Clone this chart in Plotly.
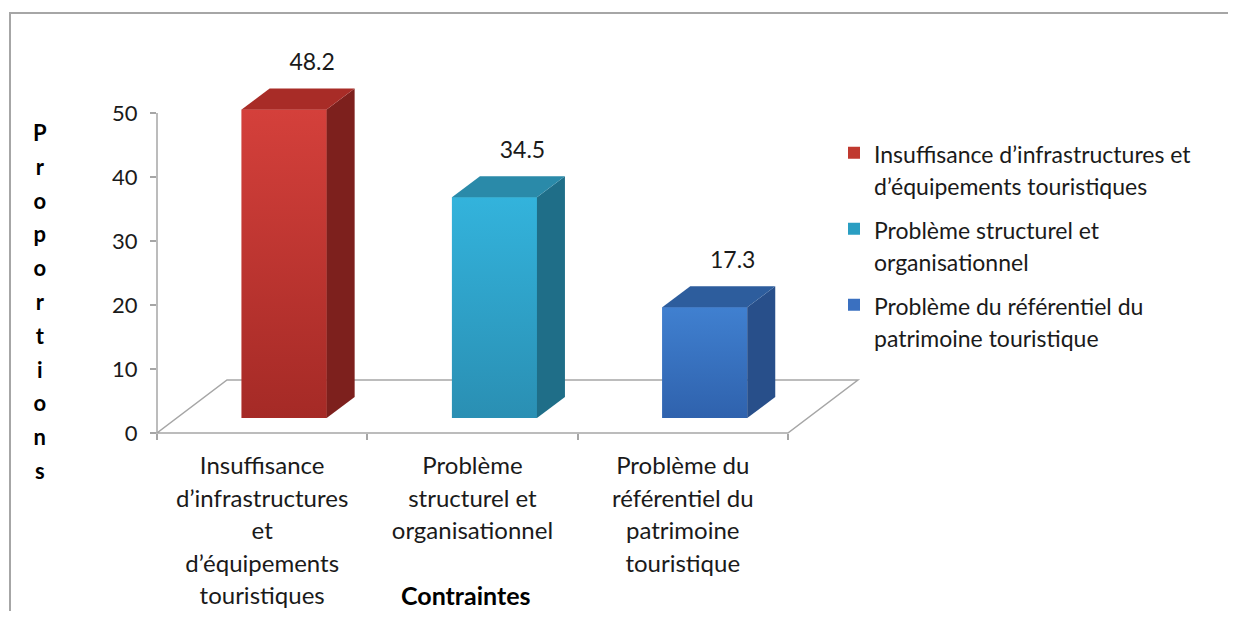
import plotly.graph_objects as go

# ---------------- data ----------------
categories = ["Insuffisance d’infrastructures et d’équipements touristiques",
              "Problème structurel et organisationnel",
              "Problème du référentiel du patrimoine touristique"]
values = [48.2, 34.5, 17.3]
tick_lines = [["Insuffisance", "d’infrastructures", "et", "d’équipements", "touristiques"],
              ["Problème", "structurel et", "organisationnel"],
              ["Problème du", "référentiel du", "patrimoine", "touristique"]]
legend_lines = [["Insuffisance d’infrastructures et", "d’équipements touristiques"],
                ["Problème structurel et", "organisationnel"],
                ["Problème du référentiel du", "patrimoine touristique"]]
y_ticks = [0, 10, 20, 30, 40, 50]
y_title = "Proportions"
x_title = "Contraintes"

# ---------------- styles ----------------
front_top = ["#d4403b", "#33b3dc", "#4080d0"]
front_bot = ["#a52a26", "#2a8fb3", "#2f62ad"]
side_col = ["#7d201d", "#1f6e88", "#284f8a"]
top_col = ["#a82c27", "#2a8aa9", "#2d5d9d"]
legend_col = ["#c0392f", "#2a9ec2", "#3a70c0"]
FONT = "Lato"
TXT = "#1a1a1a"
GRAY = "#a6a6a6"

W, H = 1236, 619          # window
PAGE = 8                  # default body margin of the html page
L, R, T, B = 157, 870, 50, 433   # plot area in window pixels
CAT_PX = 210.3     # px per category
Y_PX = 6.4         # px per unit
xmin = -0.5
xmax = xmin + (R - L) / CAT_PX
ymax = (B - T) / Y_PX

# 3D geometry (data units)
floor_dx, floor_dy = 70 / CAT_PX, 53 / Y_PX
lift = 15 / Y_PX
shift = 22 / CAT_PX
depth_dx, depth_dy = 28 / CAT_PX, 21 / Y_PX
bar_w = 85 / CAT_PX
label_pad = 2.0


def px_(x):
    return (x - xmin) / (xmax - xmin)


def py_(y):
    return y / ymax


def spans(parts, size, bold=False):
    st = "font-weight:bold;" if bold else ""
    return "<br>".join(f"<span style='{st}font-size:{size}px'>{p}</span>" for p in parts)


fig = go.Figure()

n = len(values)
for i, v in enumerate(values):
    fig.add_trace(go.Bar(
        x=[i], y=[v], base=[lift], width=[bar_w], offset=[-bar_w / 2 + shift],
        marker=dict(color=legend_col[i], line=dict(width=0)),
        name=spans(legend_lines[i], 23), legendgroup=f"g{i}",
        hoverinfo="skip"))

for i, v in enumerate(values):
    xl = i - bar_w / 2 + shift
    xr = xl + bar_w
    top = lift + v
    # front face with gradient
    fig.add_trace(go.Scatter(
        x=[xl, xr, xr, xl, xl], y=[lift, lift, top, top, lift],
        mode="lines", fill="toself", line=dict(width=0),
        fillgradient=dict(type="vertical",
                          colorscale=[[0, front_bot[i]], [1, front_top[i]]]),
        showlegend=False, hoverinfo="skip"))
    # side face
    fig.add_trace(go.Scatter(
        x=[xr, xr + depth_dx, xr + depth_dx, xr, xr],
        y=[lift, lift + depth_dy, top + depth_dy, top, lift],
        mode="lines", fill="toself", fillcolor=side_col[i], line=dict(width=0),
        showlegend=False, hoverinfo="skip"))
    # top face
    fig.add_trace(go.Scatter(
        x=[xl, xl + depth_dx, xr + depth_dx, xr, xl],
        y=[top, top + depth_dy, top + depth_dy, top, top],
        mode="lines", fill="toself", fillcolor=top_col[i], line=dict(width=0),
        showlegend=False, hoverinfo="skip"))
    # data label
    fig.add_trace(go.Scatter(
        x=[i + shift + depth_dx], y=[top + depth_dy + label_pad],
        mode="text", text=[f"{v:.1f}"], textposition="top center",
        textfont=dict(family=FONT, size=23, color=TXT),
        showlegend=False, hoverinfo="skip", cliponaxis=False))

shapes = []
# floor (below traces)
fx0, fx1 = -0.5, n - 0.5
floor_pts = [(fx0, 0), (fx1, 0), (fx1 + floor_dx, floor_dy), (fx0 + floor_dx, floor_dy)]
path = "M " + " L ".join(f"{px_(a)},{py_(b)}" for a, b in floor_pts) + " Z"
shapes.append(dict(type="path", xref="paper", yref="paper", path=path,
                   line=dict(color=GRAY, width=1.5), fillcolor="white", layer="below"))
# y axis line (0..50)
shapes.append(dict(type="line", xref="paper", yref="paper",
                   x0=px_(xmin), x1=px_(xmin), y0=py_(0), y1=py_(max(y_ticks)),
                   line=dict(color=GRAY, width=1.5), layer="below"))
# outer chart border
shapes.append(dict(type="rect", xref="paper", yref="paper",
                   x0=(10 - L) / (R - L), x1=(W + 40 - L) / (R - L),
                   y0=(B - (H + 40)) / (B - T), y1=(B - 13) / (B - T),
                   line=dict(color=GRAY, width=2), fillcolor="rgba(0,0,0,0)", layer="below"))

annotations = [
    dict(text=spans(list(y_title), 22, bold=True),
         xref="paper", yref="paper", x=(40 - L) / (R - L), y=(B - 301) / (B - T),
         xanchor="center", yanchor="middle", showarrow=False, align="center",
         font=dict(family=FONT, size=26, color="#000")),
    dict(text=f"<b>{x_title}</b>", xref="paper", yref="paper",
         x=(466 - L) / (R - L), y=(B - 595) / (B - T),
         xanchor="center", yanchor="middle", showarrow=False,
         font=dict(family=FONT, size=25, color="#000")),
]

fig.update_layout(
    width=W - 2 * PAGE, height=H - 2 * PAGE,
    margin=dict(l=L - PAGE, r=(W - 2 * PAGE) - (R - PAGE), t=T - PAGE,
                b=(H - 2 * PAGE) - (B - PAGE), autoexpand=False),
    paper_bgcolor="white", plot_bgcolor="rgba(0,0,0,0)",
    barmode="overlay",
    showlegend=True,
    legend=dict(x=(834 - L) / (R - L), y=(B - 130) / (B - T), xanchor="left", yanchor="top",
                valign="top", font=dict(family=FONT, size=25, color=TXT),
                tracegroupgap=8, bgcolor="rgba(0,0,0,0)", itemclick=False),
    shapes=shapes, annotations=annotations,
    font=dict(family=FONT, color=TXT),
    xaxis=dict(range=[xmin, xmax], showgrid=False, zeroline=False, showline=False,
               automargin=False,
               tickmode="array", tickvals=list(range(n)),
               ticktext=[spans(t, 24) for t in tick_lines],
               ticks="", tickfont=dict(family=FONT, size=25, color=TXT),
               ticklabelstandoff=15,
               minor=dict(ticks="outside", tick0=-0.5, dtick=1, ticklen=6,
                          tickcolor=GRAY, tickwidth=1.5, showgrid=False),
               fixedrange=True),
    yaxis=dict(range=[0, ymax], showgrid=False, zeroline=False, showline=False,
               automargin=False,
               tickmode="array", tickvals=y_ticks, ticks="outside", ticklen=6,
               tickcolor=GRAY, tickwidth=1.5, ticklabelstandoff=8,
               tickfont=dict(family=FONT, size=22, color=TXT), fixedrange=True),
)

fig.write_html("out.html")
